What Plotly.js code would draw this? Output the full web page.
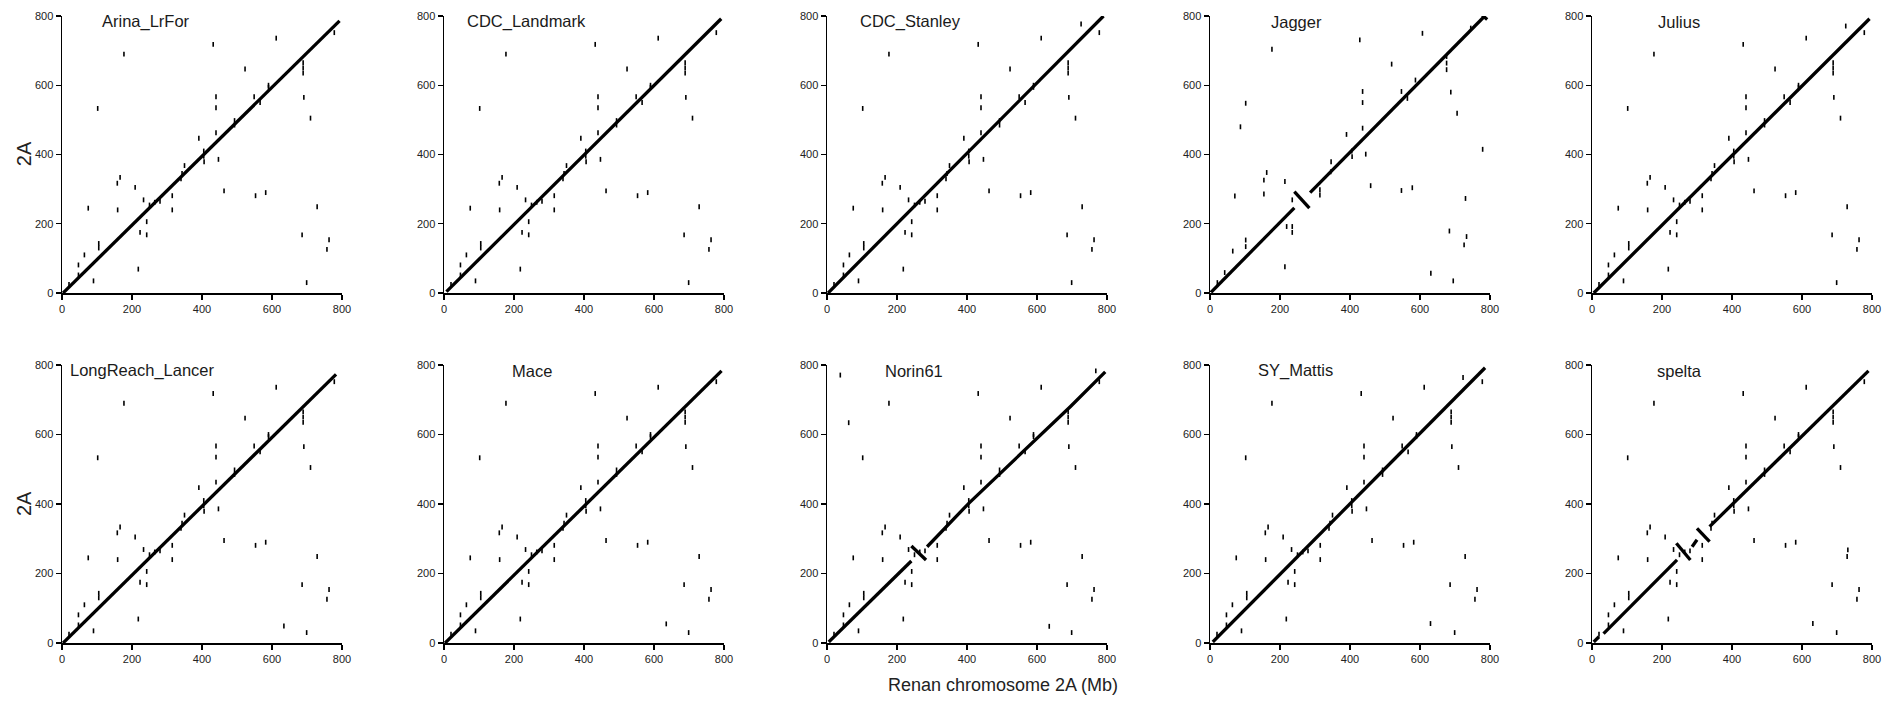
<!DOCTYPE html>
<html>
<head>
<meta charset="utf-8">
<script src="https://cdn.plot.ly/plotly-3.0.1.min.js"></script>
<style>
  html, body { margin: 0; padding: 0; background: #fff; }
  #chart { width: 1885px; height: 701px; }
</style>
</head>
<body>
<div id="chart"></div>
<script>
// Cultivar assemblies compared against Renan chromosome 2A (positions in Mb)
const cultivars = ["Arina_LrFor", "CDC_Landmark", "CDC_Stanley", "Jagger", "Julius",
                   "LongReach_Lancer", "Mace", "Norin61", "SY_Mattis", "spelta"];
const labelStartX = [109, 60, 89, 169, 183, 17, 189, 160, 131, 180];

// Collinear alignment blocks (null separates blocks)
const diagX = [
  [3, 793],
  [7, 792],
  [3, 790],
  [3, 241, null, 241, 284, null, 286, 785, null, 778, 792],
  [5, 793],
  [3, 783],
  [3, 793],
  [5, 241, null, 241, 283, null, 286, 405, 695, 795],
  [8, 786],
  [5, 20, null, 33, 243, null, 241, 281, null, 286, 300, null, 300, 336, null, 336, 790]
];
const diagY = [
  [0, 786],
  [4, 792],
  [0, 800],
  [2, 246, null, 293, 245, null, 290, 800, null, 802, 790],
  [0, 792],
  [0, 773],
  [0, 783],
  [3, 236, null, 279, 239, null, 277, 402, 680, 780],
  [3, 792],
  [3, 18, null, 27, 239, null, 287, 239, null, 277, 297, null, 330, 292, null, 335, 783]
];

// Scattered hits common to most assemblies
const sharedHitX = [177, 432, 612, 523, 778, 689, 689, 689, 691, 710, 440, 440, 102, 549, 566,
                    590, 440, 391, 447, 406, 350, 463, 553, 582, 729, 686, 763, 757, 699, 166,
                    158, 159, 75, 209, 233, 250, 242, 242, 223, 315, 315, 105, 105, 64, 47,
                    47, 90, 218, 340, 343, 405, 405, 493, 493, 590, 20, 265, 280];
const sharedHitY = [690, 718, 736, 647, 752, 635, 650, 665, 565, 505, 567, 535, 533, 567, 550,
                    594, 463, 447, 386, 379, 368, 295, 281, 290, 249, 168, 154, 126, 30, 334,
                    317, 240, 245, 305, 269, 254, 206, 168, 175, 281, 240, 130, 143, 110, 81,
                    52, 35, 69, 330, 345, 395, 410, 485, 498, 600, 25, 262, 265];

// Jagger hits (shifted by its rearrangement)
const jaggerHitX = [177, 428, 607, 519, 676, 676, 676, 688, 706, 436, 436, 102, 87, 547, 564,
                    587, 436, 390, 445, 406, 346, 459, 547, 578, 730, 684, 733, 726, 695, 631,
                    779, 745, 162, 154, 154, 71, 214, 235, 235, 235, 219, 214, 314, 314, 102,
                    102, 65, 42, 21, 345, 405];
const jaggerHitY = [704, 731, 750, 661, 645, 664, 683, 580, 519, 582, 550, 548, 480, 582, 562,
                    615, 476, 458, 401, 394, 379, 310, 296, 304, 273, 179, 163, 139, 35, 57,
                    415, 765, 348, 326, 286, 280, 322, 269, 192, 175, 192, 76, 298, 283, 153,
                    134, 121, 59, 30, 350, 410];

// Hits seen only in individual assemblies
const extraHitX = [[], [], [726], null, [725], [634], [635], [38, 62, 635, 768], [630, 723], [631, 731]];
const extraHitY = [[], [], [777], null, [771], [49], [55], [771, 634, 48, 783], [56, 764], [56, 268]];

const tickVals = [0, 200, 400, 600, 800];

const W = 1885, H = 701;
const panelLeft = [62, 444, 827, 1210, 1592];
const panelWidth = 280;
const rowTopBottom = [[16, 293], [365, 643]];

const traces = [];
const layout = {
  width: W, height: H,
  margin: {l: 0, r: 0, t: 0, b: 0},
  paper_bgcolor: "#fff", plot_bgcolor: "#fff",
  showlegend: false,
  font: {family: "Liberation Sans, Arial, sans-serif", color: "#222"},
  annotations: []
};

cultivars.forEach((name, i) => {
  const s = i === 0 ? "" : String(i + 1);
  const col = i % 5, row = Math.floor(i / 5);
  const [top, bottom] = rowTopBottom[row];

  traces.push({
    x: diagX[i], y: diagY[i], xaxis: "x" + s, yaxis: "y" + s,
    mode: "lines", line: {color: "#000", width: 3.3}, hoverinfo: "skip",
    connectgaps: false
  });

  const hx = i === 3 ? jaggerHitX : sharedHitX.concat(extraHitX[i]);
  const hy = i === 3 ? jaggerHitY : sharedHitY.concat(extraHitY[i]);
  traces.push({
    x: hx, y: hy, xaxis: "x" + s, yaxis: "y" + s,
    mode: "markers", hoverinfo: "skip", cliponaxis: false,
    marker: {symbol: "line-ns", size: 3.5, color: "#000", line: {color: "#000", width: 1.6}}
  });

  const axisCommon = {
    range: [0, 800], tickvals: tickVals, ticks: "outside", ticklen: 5, tickwidth: 1.3,
    tickcolor: "#000", showline: true, linecolor: "#000", linewidth: 1.5,
    showgrid: false, zeroline: false, mirror: false,
    tickfont: {size: 11, color: "#222", family: "Liberation Sans, Arial, sans-serif"}
  };
  layout["xaxis" + s] = Object.assign({}, axisCommon, {
    domain: [panelLeft[col] / W, (panelLeft[col] + panelWidth) / W], anchor: "y" + s
  });
  layout["yaxis" + s] = Object.assign({}, axisCommon, {
    domain: [(H - bottom) / H, (H - top) / H], anchor: "x" + s
  });

  layout.annotations.push({
    text: name, xref: "x" + s, yref: "y" + s, x: labelStartX[i], y: 783,
    xanchor: "left", yanchor: "middle", showarrow: false,
    font: {size: 16.5, color: "#1a1a1a", family: "Liberation Sans, Arial, sans-serif"}
  });
});

// Shared axis titles
[0.78, 0.281].forEach(py => {
  layout.annotations.push({
    text: "2A", xref: "paper", yref: "paper", x: 24 / W, y: py,
    xanchor: "center", yanchor: "middle", textangle: -90, showarrow: false,
    font: {size: 20, color: "#222", family: "Liberation Sans, Arial, sans-serif"}
  });
});
layout.annotations.push({
  text: "Renan chromosome 2A (Mb)", xref: "paper", yref: "paper",
  x: 1003 / W, y: (H - 685) / H, xanchor: "center", yanchor: "middle", showarrow: false,
  font: {size: 18, color: "#222", family: "Liberation Sans, Arial, sans-serif"}
});

Plotly.newPlot("chart", traces, layout, {staticPlot: true, displayModeBar: false});
</script>
</body>
</html>
